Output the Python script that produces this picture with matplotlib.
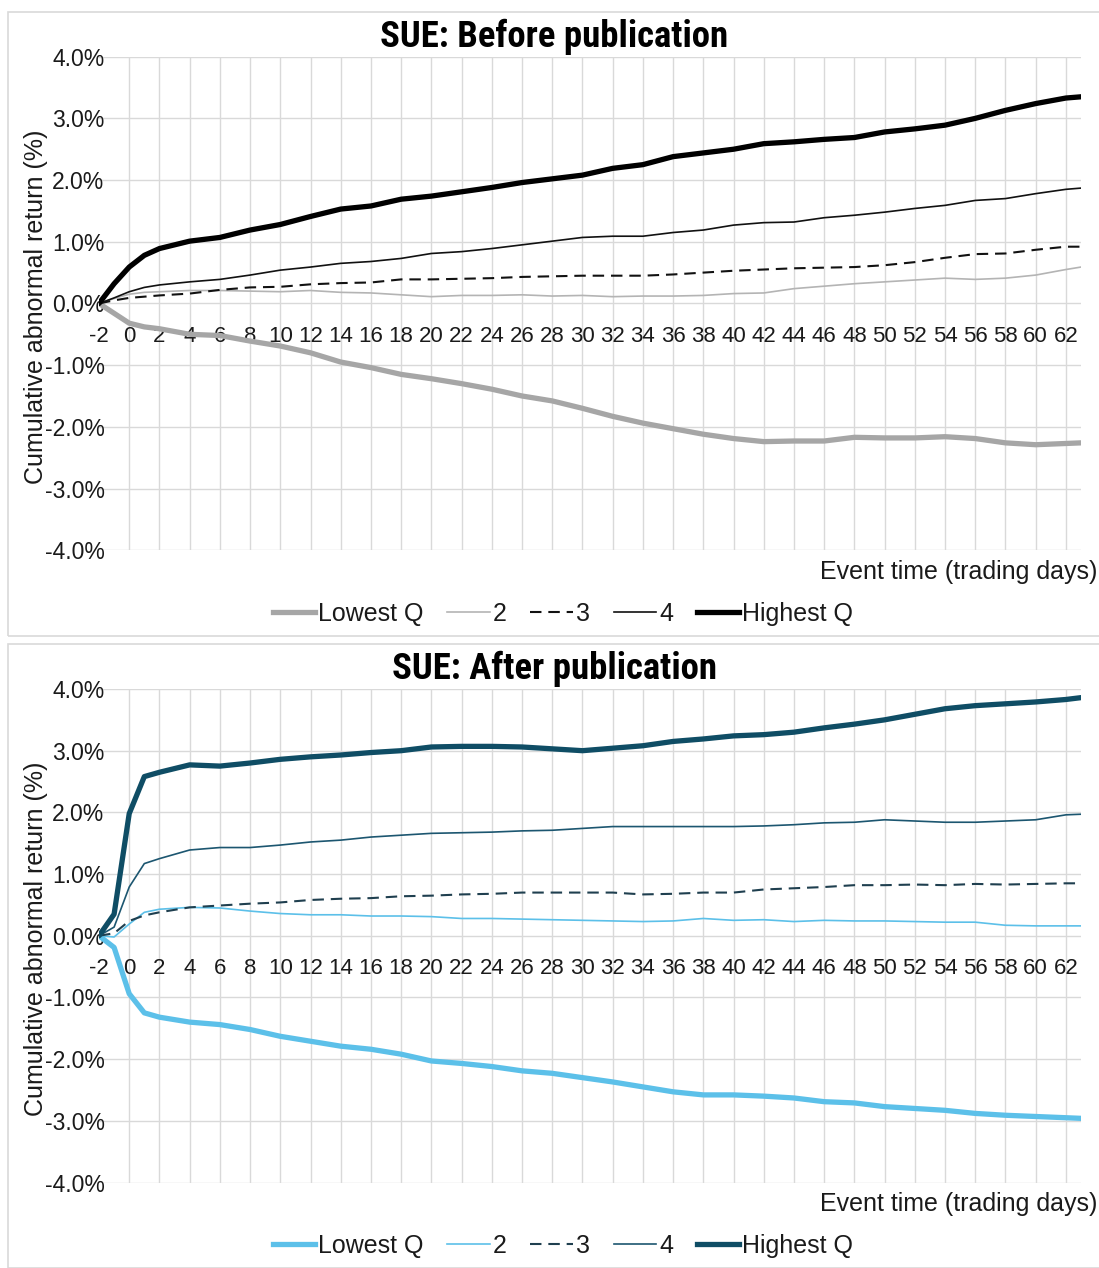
import matplotlib
matplotlib.use("Agg")
import matplotlib.pyplot as plt
from matplotlib import font_manager as fm
from matplotlib.patches import Rectangle
from matplotlib.lines import Line2D

# event days shown (trading days relative to announcement)
days = [-2, -1, 0, 1, 2] + list(range(4, 63, 2)) + [63]

# SUE before publication, cumulative abnormal return (%)
pre_low = [0, -0.16, -0.32, -0.38, -0.41, -0.50, -0.52, -0.61, -0.69, -0.80, -0.95, -1.04, -1.15,
           -1.22, -1.30, -1.39, -1.50, -1.58, -1.70, -1.83, -1.94, -2.03, -2.12, -2.19, -2.24,
           -2.23, -2.23, -2.17, -2.18, -2.18, -2.16, -2.19, -2.26, -2.29, -2.27, -2.26]
pre_q2 = [0, 0.08, 0.15, 0.18, 0.19, 0.21, 0.21, 0.20, 0.19, 0.21, 0.18, 0.17, 0.14, 0.11, 0.13,
          0.13, 0.14, 0.12, 0.13, 0.11, 0.12, 0.12, 0.13, 0.16, 0.17, 0.24, 0.28, 0.32, 0.35,
          0.38, 0.41, 0.39, 0.41, 0.46, 0.55, 0.59]
pre_q3 = [0, 0.05, 0.09, 0.11, 0.13, 0.16, 0.22, 0.26, 0.27, 0.31, 0.33, 0.34, 0.39, 0.39, 0.40,
          0.41, 0.43, 0.44, 0.45, 0.45, 0.45, 0.47, 0.50, 0.53, 0.55, 0.57, 0.58, 0.59, 0.62,
          0.67, 0.74, 0.80, 0.81, 0.87, 0.92, 0.92]
pre_q4 = [0, 0.09, 0.19, 0.26, 0.30, 0.35, 0.39, 0.46, 0.54, 0.59, 0.65, 0.68, 0.73, 0.81, 0.84,
          0.89, 0.95, 1.01, 1.07, 1.09, 1.09, 1.15, 1.19, 1.27, 1.31, 1.32, 1.39, 1.43, 1.48,
          1.54, 1.59, 1.67, 1.70, 1.78, 1.85, 1.87]
pre_high = [0, 0.32, 0.59, 0.78, 0.89, 1.01, 1.07, 1.19, 1.28, 1.41, 1.53, 1.58, 1.69, 1.74, 1.81,
            1.88, 1.96, 2.02, 2.08, 2.19, 2.25, 2.38, 2.44, 2.50, 2.59, 2.62, 2.66, 2.69, 2.78,
            2.83, 2.89, 3.00, 3.13, 3.24, 3.33, 3.35]

# SUE after publication
post_low = [0, -0.19, -0.94, -1.25, -1.32, -1.40, -1.44, -1.52, -1.63, -1.71, -1.79, -1.84, -1.92,
            -2.03, -2.07, -2.12, -2.19, -2.23, -2.30, -2.37, -2.45, -2.53, -2.58, -2.58, -2.60,
            -2.63, -2.69, -2.71, -2.77, -2.80, -2.83, -2.88, -2.91, -2.93, -2.95, -2.96]
post_q2 = [0, -0.02, 0.19, 0.38, 0.43, 0.46, 0.45, 0.40, 0.36, 0.34, 0.34, 0.32, 0.32, 0.31, 0.28,
           0.28, 0.27, 0.26, 0.25, 0.24, 0.23, 0.24, 0.28, 0.25, 0.26, 0.23, 0.25, 0.24, 0.24,
           0.23, 0.22, 0.22, 0.17, 0.16, 0.16, 0.16]
post_q3 = [0, 0.04, 0.24, 0.33, 0.38, 0.46, 0.49, 0.52, 0.54, 0.58, 0.60, 0.61, 0.64, 0.65, 0.67,
           0.68, 0.70, 0.70, 0.70, 0.70, 0.67, 0.68, 0.70, 0.70, 0.75, 0.77, 0.79, 0.82, 0.82,
           0.83, 0.82, 0.84, 0.83, 0.84, 0.85, 0.85]
post_q4 = [0, 0.14, 0.79, 1.17, 1.25, 1.39, 1.43, 1.43, 1.47, 1.52, 1.55, 1.60, 1.63, 1.66, 1.67,
           1.68, 1.70, 1.71, 1.74, 1.77, 1.77, 1.77, 1.77, 1.77, 1.78, 1.80, 1.83, 1.84, 1.88,
           1.86, 1.84, 1.84, 1.86, 1.88, 1.96, 1.97]
post_high = [0, 0.35, 1.98, 2.58, 2.65, 2.77, 2.75, 2.80, 2.86, 2.90, 2.93, 2.97, 3.00, 3.06, 3.07,
             3.07, 3.06, 3.03, 3.00, 3.04, 3.08, 3.15, 3.19, 3.24, 3.26, 3.30, 3.37, 3.43, 3.50,
             3.59, 3.68, 3.73, 3.76, 3.79, 3.83, 3.86]

labels = ["Lowest Q", "2", "3", "4", "Highest Q"]
xticks = list(range(-2, 63, 2))
yticks = [-4, -3, -2, -1, 0, 1, 2, 3, 4]

installed = {f.name for f in fm.fontManager.ttflist}
TXT = "Liberation Sans" if "Liberation Sans" in installed else "DejaVu Sans"
TITLE = TXT
for cand in ["Liberation Sans Narrow", "Roboto Condensed", "Open Sans Condensed"]:
    if cand in installed:
        TITLE = cand
        break
plt.rcParams["font.family"] = [TXT, "DejaVu Sans"]

W, H = 1099, 1268
fig = plt.figure(figsize=(W / 100, H / 100), dpi=100)

GRID = "#d9d9d9"
INK = "#1a1a1a"


def panel(top_px, series, colors, title):
    # top_px: pixel row of the 4% gridline
    box_top = top_px - 45
    fig.add_artist(Rectangle((7.5 / W, 1 - (box_top + 624) / H), 1.2, 624 / H,
                             transform=fig.transFigure, fill=False, ec=GRID, lw=1.2))
    ax = fig.add_axes([99 / W, 1 - (top_px + 493.5) / H, 982 / W, 493.5 / H])
    ax.set_xlim(-2, 63)
    ax.set_ylim(-4, 4)
    for d in range(0, 63, 2):
        ax.axvline(d, color=GRID, lw=1, zorder=0)
    for v in yticks:
        ax.axhline(v, color=GRID, lw=1, zorder=0)
    for s in ax.spines.values():
        s.set_visible(False)
    ax.spines["bottom"].set_position(("data", 0))
    ax.set_xticks(xticks)
    ax.set_xticklabels([str(t) for t in xticks])
    ax.set_yticks(yticks)
    ax.set_yticklabels([f"{v:.1f}%" for v in yticks])
    ax.tick_params(axis="x", length=0, pad=16, labelsize=16, colors=INK)
    ax.tick_params(axis="y", length=0, pad=-4, labelsize=16.5, colors=INK)

    styles = [dict(lw=3.8), dict(lw=1.2), dict(lw=1.5, dashes=(5.5, 3.3)),
              dict(lw=1.2), dict(lw=3.8)]
    handles = []
    for vals, c, st in zip(series, colors, styles):
        ax.plot(days, vals, color=c, solid_capstyle="round", **st)
        handles.append(Line2D([], [], color=c, **st))

    fig.text(554 / W, 1 - (top_px - 20) / H, title, family=[TITLE, "DejaVu Sans"],
             fontweight="bold", fontsize=26.5, ha="center", va="center")
    fig.text(1097 / W, 1 - (top_px + 515) / H, "Event time (trading days)",
             fontsize=18, ha="right", va="center", color=INK)
    fig.text(36 / W, 1 - (top_px + 250) / H, "Cumulative abnormal return (%)",
             fontsize=18, rotation=90, ha="center", va="center", color=INK)
    fig.legend(handles, labels, loc="center", ncol=5, frameon=False,
               bbox_to_anchor=(563 / W, 1 - (top_px + 557) / H),
               fontsize=18, handlelength=1.7, handletextpad=0.12, columnspacing=0.95,
               borderaxespad=0, labelcolor=INK)
    return ax


panel(56.7, [pre_low, pre_q2, pre_q3, pre_q4, pre_high],
      ["#a6a6a6", "#b4b4b4", "#111111", "#111111", "#000000"],
      "SUE: Before publication")
panel(689, [post_low, post_q2, post_q3, post_q4, post_high],
      ["#5cc0e9", "#5cc0e9", "#1f3f4f", "#1c5670", "#0f4d65"],
      "SUE: After publication")

fig.savefig("out.png", dpi=100)
print("saved out.png")
